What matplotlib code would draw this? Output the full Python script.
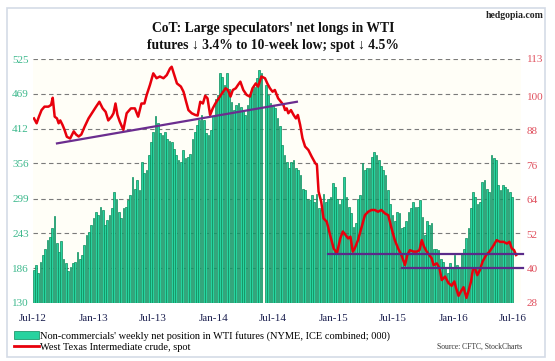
import matplotlib
matplotlib.use("Agg")
import matplotlib.pyplot as plt
import matplotlib.dates as mdates
from matplotlib.patches import Rectangle, Patch
from matplotlib.lines import Line2D
import pandas as pd
import numpy as np

# ---------------- data ----------------
net_longs = [
    183,191,178,197,208,218,232,237,251,271,227,213,230,202,194,181,189,194,197,213,
    202,208,224,240,245,256,267,278,272,286,281,256,264,272,283,310,299,278,267,283,
    286,297,305,334,315,329,313,359,340,345,370,391,
    407,432,421,405,402,407,396,392,391,380,370,361,359,378,364,367,372,396,407,418,
    426,434,426,405,402,410,432,461,466,502,496,483,502,477,456,442,450,453,448,442,
    434,450,469,477,480,494,507,502,130,483,466,453,450,
    445,429,416,386,370,359,348,359,361,348,345,337,315,313,299,297,305,294,307,283,
    281,307,294,299,302,324,318,299,291,299,334,302,286,275,253,259,299,305,356,345,
    348,348,367,375,370,361,351,345,337,313,291,272,262,278,275,
    251,253,262,278,283,294,286,286,297,270,240,262,256,259,218,218,216,202,197,189,
    178,194,189,208,191,189,210,218,235,251,283,310,302,291,294,326,329,315,310,370,
    364,361,321,313,321,318,315,310,302,
]
first_week = "2012-07-03"

price_dates = [
    "2012-07-04","2012-07-12","2012-07-19","2012-07-27","2012-08-05","2012-08-17","2012-08-25","2012-08-30",
    "2012-09-05","2012-09-12","2012-09-17","2012-09-22","2012-09-29","2012-10-05","2012-10-12","2012-10-22",
    "2012-11-02","2012-11-09","2012-11-17","2012-11-25","2012-12-05","2012-12-17","2012-12-27","2013-01-09",
    "2013-01-19","2013-01-29","2013-02-07","2013-02-15","2013-02-25","2013-03-03","2013-03-09","2013-03-15",
    "2013-03-22","2013-04-02","2013-04-12","2013-04-25","2013-05-07","2013-05-17","2013-05-27","2013-06-05",
    "2013-06-12","2013-06-22","2013-07-02","2013-07-12","2013-07-22","2013-08-02","2013-08-12","2013-08-22",
    "2013-08-27","2013-09-04","2013-09-12","2013-09-24","2013-10-02","2013-10-10","2013-10-17","2013-10-27",
    "2013-11-07","2013-11-14","2013-11-22","2013-11-30","2013-12-07","2013-12-14","2013-12-22","2013-12-30",
    "2014-01-07","2014-01-17","2014-01-27","2014-02-07","2014-02-14","2014-02-22","2014-03-01","2014-03-10",
    "2014-03-17","2014-03-24","2014-04-02","2014-04-12","2014-04-22","2014-04-30","2014-05-10","2014-05-17",
    "2014-05-27","2014-06-07","2014-06-14","2014-06-22","2014-06-30","2014-07-07","2014-07-17","2014-08-02",
    "2014-08-07","2014-08-12","2014-08-17","2014-08-25","2014-09-02","2014-09-09","2014-09-15","2014-09-22",
    "2014-09-29","2014-10-07","2014-10-17","2014-10-27","2014-11-07","2014-11-12","2014-11-17","2014-11-25",
    "2014-12-02","2014-12-12","2014-12-22","2015-01-02","2015-01-12","2015-01-22","2015-01-30","2015-02-07",
    "2015-02-15","2015-02-22","2015-03-01","2015-03-07","2015-03-17","2015-03-27","2015-04-07","2015-04-17",
    "2015-04-27","2015-05-07","2015-05-17","2015-05-27","2015-06-07","2015-06-17","2015-06-27","2015-07-07",
    "2015-07-17","2015-07-27","2015-08-07","2015-08-14","2015-08-22","2015-09-02","2015-09-12","2015-09-20",
    "2015-09-27","2015-10-04","2015-10-12","2015-10-20","2015-10-27","2015-11-02","2015-11-12","2015-11-20",
    "2015-11-27","2015-12-07","2015-12-17","2015-12-27","2016-01-04","2016-01-10","2016-01-17","2016-01-24",
    "2016-02-01","2016-02-10","2016-02-17","2016-02-24","2016-03-01","2016-03-07","2016-03-14","2016-03-22",
    "2016-03-30","2016-04-10","2016-04-20","2016-04-30","2016-05-12","2016-05-22","2016-06-02","2016-06-12",
    "2016-06-20","2016-06-27","2016-07-04","2016-07-10",
]
price_values = [
    92.3,90.6,92.9,95.2,96.4,96.4,97.0,99.5,
    92.9,92.3,90.6,91.6,90.0,88.3,85.9,85.3,
    87.8,86.7,86.0,86.7,89.4,92.3,94.1,96.4,
    98.1,95.8,94.6,91.6,92.9,94.1,97.5,93.5,
    91.2,88.3,94.1,95.8,95.8,92.9,97.5,97.5,
    100.5,104.0,108.0,106.3,106.9,106.3,107.4,109.7,
    110.3,107.4,104.5,103.4,101.6,98.1,95.2,94.1,
    93.5,93.3,98.1,97.5,100.2,99.3,93.5,95.8,
    97.5,99.3,101.0,102.8,102.2,99.9,102.2,102.8,
    104.0,105.1,102.2,100.5,99.9,102.8,104.5,103.4,
    106.9,106.3,104.5,102.8,101.6,102.2,99.3,97.0,
    95.2,95.8,94.1,95.2,93.5,92.3,93.5,90.0,
    85.4,82.5,81.3,79.0,76.7,76.1,66.8,63.3,
    57.5,56.3,51.7,47.0,45.3,50.5,52.9,51.7,
    50.5,51.1,45.9,47.0,49.9,54.0,58.6,59.8,
    60.4,60.4,59.8,60.4,59.2,58.6,54.0,49.9,
    47.0,44.7,41.2,44.7,46.4,45.9,45.9,46.4,
    49.9,47.6,45.9,44.7,43.6,41.2,41.8,40.1,
    36.0,37.2,35.0,34.0,35.5,33.0,30.5,32.0,
    33.5,29.8,32.5,35.5,40.0,40.1,37.7,39.5,
    42.4,44.7,45.9,47.6,49.9,49.3,49.3,48.7,
    49.3,47.0,46.4,44.7,
]

# trend / support lines (date, price)
trend_dates = ["2012-09-12", "2014-09-12"]
trend_values = [83.6, 98.1]
support1_dates = ["2014-12-15", "2016-07-31"]
support1_values = [45.1, 45.1]
support2_dates = ["2015-07-28", "2016-07-31"]
support2_values = [40.3, 40.3]

left_ticks = [130, 186, 243, 299, 356, 412, 469, 525]
right_ticks = [28, 40, 52, 64, 76, 88, 100, 113]
x_tick_dates = ["2012-07-01","2013-01-01","2013-07-01","2014-01-01","2014-07-01",
                "2015-01-01","2015-07-01","2016-01-01","2016-07-01"]

title = "CoT: Large speculators' net longs in WTI\nfutures \u2193 3.4% to 10-week low; spot \u2193 4.5%"
legend_bar = "Non-commercials' weekly net position in WTI futures (NYME, ICE combined; 000)"
legend_line = "West Texas Intermediate crude, spot"

# ---------------- figure ----------------
plt.rcParams['font.family'] = ['Liberation Serif', 'DejaVu Serif']
W, H = 555, 361
fig = plt.figure(figsize=(W/100, H/100), dpi=100)
fig.patch.set_facecolor('white')

# outer frame
fig.patches.append(Rectangle((7/W, 1-357/H), 538/W, 349/H, transform=fig.transFigure,
                             fill=False, edgecolor='#d4dbe6', linewidth=1.2))

ax_l, ax_r, ax_t, ax_b = 33, 521, 59, 303
ax = fig.add_axes([ax_l/W, 1-ax_b/H, (ax_r-ax_l)/W, (ax_b-ax_t)/H])
ax.set_facecolor('#fffef7')

bar_dates = pd.date_range(first_week, periods=len(net_longs), freq='7D')
vals = np.array(net_longs, dtype=float)
ax.bar(bar_dates, vals - 130, bottom=130, width=5.2, color='#27d39f',
       edgecolor='#0c8a5a', linewidth=0.5, zorder=2)

ax.set_ylim(130, 525)
ax.set_xlim(pd.Timestamp("2012-07-01"), pd.Timestamp("2016-07-25"))
ax.set_yticks(left_ticks)
ax.set_yticklabels([str(t) for t in left_ticks], color='#3cb88c', fontsize=8)
for t in left_ticks[1:]:
    ax.axhline(t, color='#7a7a7a', linewidth=0.8, linestyle=(0, (4, 3)), zorder=1)
ax.set_xticks(pd.to_datetime(x_tick_dates))
ax.xaxis.set_major_formatter(mdates.DateFormatter('%b-%y'))
ax.tick_params(axis='x', colors='#1c2050', labelsize=8, length=0, pad=8)
ax.tick_params(axis='y', length=0, pad=3)
for s in ax.spines.values():
    s.set_visible(False)

ax2 = ax.twinx()
ax2.set_ylim(28, 113)
ax2.plot(pd.to_datetime(price_dates), price_values, color='#e8000c', linewidth=1.8, zorder=4)
ax2.plot(pd.to_datetime(trend_dates), trend_values, color='#6b2d8f', linewidth=1.6, zorder=5)
ax2.plot(pd.to_datetime(support1_dates), support1_values, color='#5a2a8a', linewidth=1.6, zorder=5, clip_on=False)
ax2.plot(pd.to_datetime(support2_dates), support2_values, color='#5a2a8a', linewidth=1.6, zorder=5, clip_on=False)
ax2.set_yticks(right_ticks)
ax2.set_yticklabels([str(t) for t in right_ticks], color='#e0505e', fontsize=8)
ax2.tick_params(axis='y', length=0, pad=4)
for s in ax2.spines.values():
    s.set_visible(False)

fig.text(273/W, 1-37/H, title, ha='center', va='center', fontsize=9.8,
         fontweight='bold', linespacing=1.45, color='#111111')
fig.text(544/W, 1-16/H, "hedgopia.com", ha='right', va='center', fontsize=7,
         fontweight='bold', color='#222222')

handles = [Patch(facecolor='#27d39f', edgecolor='#0c8a5a', linewidth=0.5),
           Line2D([0], [0], color='#e8000c', linewidth=2)]
fig.legend(handles, [legend_bar, legend_line], loc='upper left',
           bbox_to_anchor=(14/W, 1-331/H), frameon=False, fontsize=7.5,
           handlelength=2.4, handletextpad=0.1, borderaxespad=0, labelspacing=0.15,
           borderpad=0)
fig.text(522/W, 1-347/H, "Source: CFTC, StockCharts", ha='right', va='center',
         fontsize=5.5, color='#333333')

fig.savefig("out.png", dpi=100, facecolor='white')
